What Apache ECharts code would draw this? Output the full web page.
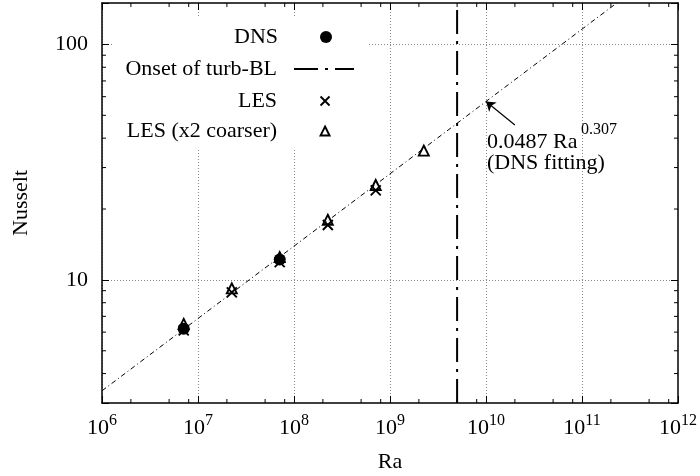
<!DOCTYPE html>
<html>
<head>
<meta charset="utf-8">
<script src="https://cdn.jsdelivr.net/npm/echarts@6/dist/echarts.min.js"></script>
<style>
html, body { margin: 0; padding: 0; background: #fff; }
#main { width: 700px; height: 476px; }
</style>
</head>
<body>
<div id="main"></div>
<script>
// Nusselt vs Ra, log-log
var dnsData = [[7.1e6, 6.2], [7.1e7, 12.2]];
var lesData = [[7.1e6, 6.1], [2.25e7, 8.85], [7.1e7, 11.9], [2.25e8, 17.1], [7.1e8, 24.0]];
var lesCoarseData = [[7.1e6, 6.5], [2.25e7, 9.2], [7.1e7, 12.5], [2.25e8, 18.0], [7.1e8, 25.3], [2.25e9, 35.4]];
var fitLine = [[1e6, 3.38], [2.3e11, 150]];   // 0.0487 Ra^0.307
var onsetLine = [[5e9, 3], [5e9, 150]];
var arrowFrom = [2.0e10, 45.5];
var arrowTo = [1e10, 57.2];
var xMinorTicks = [2e6, 5e6, 8e6, 2e7, 5e7, 8e7, 2e8, 5e8, 8e8, 2e9, 5e9, 8e9, 2e10, 5e10, 8e10, 2e11, 5e11, 8e11];
var yMinorTicks = [4, 5, 6, 7, 8, 9, 20, 30, 40, 50, 60, 70, 80, 90];
var xMin = 1e6, xMax = 1e12, yMin = 3, yMax = 150;

var FONT = 'Liberation Serif';
var chart = echarts.init(document.getElementById('main'));

var axisLineStyle = { color: '#000', width: 1.5 };
var tickStyle = { color: '#000', width: 1 };
var gridLineStyle = { color: '#888', width: 1, type: [1, 2] };
var crossPath = 'path://M0,0L10,10M10,0L0,10';
var openStyle = { color: 'transparent', borderColor: '#000', borderWidth: 1.9, opacity: 1 };

function isDecade(v) {
	var l = Math.log10(v);
	return Math.abs(l - Math.round(l)) < 1e-6;
}

function legendItem(name, top, right, w, h, padR, extra) {
	var l = {
		data: [name],
		top: top,
		right: right,
		align: 'right',
		itemWidth: w,
		itemHeight: h,
		padding: 0,
		selectedMode: false,
		z: 5,
		textStyle: { fontFamily: FONT, fontSize: 22, color: '#000', lineHeight: 24, padding: [0, padR, 0, 0] }
	};
	for (var k in extra) l[k] = extra[k];
	return l;
}

var option = {
	animation: false,
	backgroundColor: '#fff',
	textStyle: { fontFamily: FONT, color: '#000' },
	grid: { left: 102, right: 22, top: 3, bottom: 73, outerBoundsMode: 'none' },
	xAxis: [{
		type: 'log', min: xMin, max: xMax, position: 'bottom',
		name: 'Ra', nameLocation: 'middle', nameGap: 48,
		nameTextStyle: { fontFamily: FONT, fontSize: 22, color: '#000' },
		axisLine: { show: true, onZero: false, lineStyle: axisLineStyle },
		axisTick: { inside: true, length: 7, lineStyle: tickStyle },
		axisLabel: {
			margin: 10, showMinLabel: true, showMaxLabel: true,
			formatter: function (v) {
				if (!isDecade(v)) return '';
				return '{b|10}{s|' + Math.round(Math.log10(v)) + '}';
			},
			rich: {
				b: { fontFamily: FONT, fontSize: 22, color: '#000' },
				s: { fontFamily: FONT, fontSize: 16, color: '#000', padding: [0, 0, 14, 0] }
			}
		},
		splitLine: { show: true, showMinLine: false, showMaxLine: false, lineStyle: gridLineStyle }
	}, {
		type: 'log', min: xMin, max: xMax, position: 'top',
		axisLine: { show: true, onZero: false, lineStyle: axisLineStyle },
		axisTick: { inside: true, length: 7, lineStyle: tickStyle },
		axisLabel: { show: false },
		splitLine: { show: false }
	}],
	yAxis: [{
		type: 'log', min: yMin, max: yMax, position: 'left',
		name: 'Nusselt', nameLocation: 'middle', nameGap: 70, nameRotate: 90,
		nameTextStyle: { fontFamily: FONT, fontSize: 22, color: '#000' },
		axisLine: { show: true, onZero: false, lineStyle: axisLineStyle },
		axisTick: { inside: true, length: 7, lineStyle: tickStyle },
		axisLabel: {
			margin: 14, fontFamily: FONT, fontSize: 22, color: '#000',
			formatter: function (v) { return isDecade(v) ? String(Math.round(v)) : ''; }
		},
		splitLine: { show: true, showMinLine: false, showMaxLine: false, lineStyle: gridLineStyle }
	}, {
		type: 'log', min: yMin, max: yMax, position: 'right',
		axisLine: { show: true, onZero: false, lineStyle: axisLineStyle },
		axisTick: { inside: true, length: 7, lineStyle: tickStyle },
		axisLabel: { show: false },
		splitLine: { show: false }
	}],
	legend: [
		legendItem('DNS', 25, 368, 12, 12, 37, {
			itemStyle: { color: '#000', opacity: 1 }
		}),
		legendItem('Onset of turb-BL', 57, 345, 60, 14, 12, {
			lineStyle: { color: '#000', width: 2, type: [24, 7, 3, 7] },
			itemStyle: { color: 'transparent', borderWidth: 0, opacity: 0 }
		}),
		legendItem('LES', 89, 369.5, 9, 9, 38.5, { itemStyle: openStyle }),
		legendItem('LES (x2 coarser)', 119, 369.5, 9, 9, 38.5, { itemStyle: openStyle })
	],
	graphic: [
		{ type: 'rect', z: 1, silent: true, shape: { x: 112, y: 18, width: 256, height: 130 }, style: { fill: '#fff' } },
		{ type: 'text', z: 6, x: 487, y: 142, style: { text: '0.0487 Ra', font: '22px "Liberation Serif"', fill: '#000', verticalAlign: 'middle' } },
		{ type: 'text', z: 6, x: 581, y: 130, style: { text: '0.307', font: '16px "Liberation Serif"', fill: '#000', verticalAlign: 'middle' } },
		{ type: 'text', z: 6, x: 487, y: 163, style: { text: '(DNS fitting)', font: '22px "Liberation Serif"', fill: '#000', verticalAlign: 'middle' } }
	],
	series: [{
		name: 'fit', type: 'line', data: fitLine, symbol: 'none', silent: true, z: 2,
		lineStyle: { color: '#000', width: 1, type: [5, 3, 1, 3] },
		markLine: {
			silent: true, symbol: ['none', 'arrow'], symbolSize: 9,
			label: { show: false },
			lineStyle: { color: '#000', width: 1.2, type: 'solid' },
			data: [[{ coord: arrowFrom }, { coord: arrowTo }]]
		}
	}, {
		name: 'Onset of turb-BL', type: 'line', data: onsetLine, symbol: 'none', silent: true, z: 2,
		itemStyle: { color: '#000' },
		lineStyle: { color: '#000', width: 2, type: [24, 7, 3, 7] }
	}, {
		name: 'DNS', type: 'scatter', data: dnsData, symbol: 'circle', symbolSize: 12, z: 3,
		itemStyle: { color: '#000', opacity: 1 }
	}, {
		name: 'LES', type: 'scatter', data: lesData, symbol: crossPath, symbolSize: 10, z: 4,
		itemStyle: openStyle
	}, {
		name: 'LES (x2 coarser)', type: 'scatter', data: lesCoarseData, symbol: 'triangle', symbolSize: 10, z: 5,
		itemStyle: openStyle
	}, {
		// minor ticks on bottom and top
		name: 'xMinor', type: 'custom', silent: true, clip: false, z: 3,
		data: xMinorTicks.map(function (v) { return [v, yMin]; }),
		renderItem: function (params, api) {
			var v = api.value(0);
			var b = api.coord([v, yMin]), t = api.coord([v, yMax]);
			return { type: 'group', children: [
				{ type: 'line', shape: { x1: b[0], y1: b[1], x2: b[0], y2: b[1] - 4 }, style: { stroke: '#000', lineWidth: 1 } },
				{ type: 'line', shape: { x1: t[0], y1: t[1], x2: t[0], y2: t[1] + 4 }, style: { stroke: '#000', lineWidth: 1 } }
			] };
		}
	}, {
		// minor ticks on left and right
		name: 'yMinor', type: 'custom', silent: true, clip: false, z: 3,
		data: yMinorTicks.map(function (v) { return [xMin, v]; }),
		renderItem: function (params, api) {
			var v = api.value(1);
			var l = api.coord([xMin, v]), r = api.coord([xMax, v]);
			return { type: 'group', children: [
				{ type: 'line', shape: { x1: l[0], y1: l[1], x2: l[0] + 4, y2: l[1] }, style: { stroke: '#000', lineWidth: 1 } },
				{ type: 'line', shape: { x1: r[0], y1: r[1], x2: r[0] - 4, y2: r[1] }, style: { stroke: '#000', lineWidth: 1 } }
			] };
		}
	}]
};

chart.setOption(option);
</script>
</body>
</html>
